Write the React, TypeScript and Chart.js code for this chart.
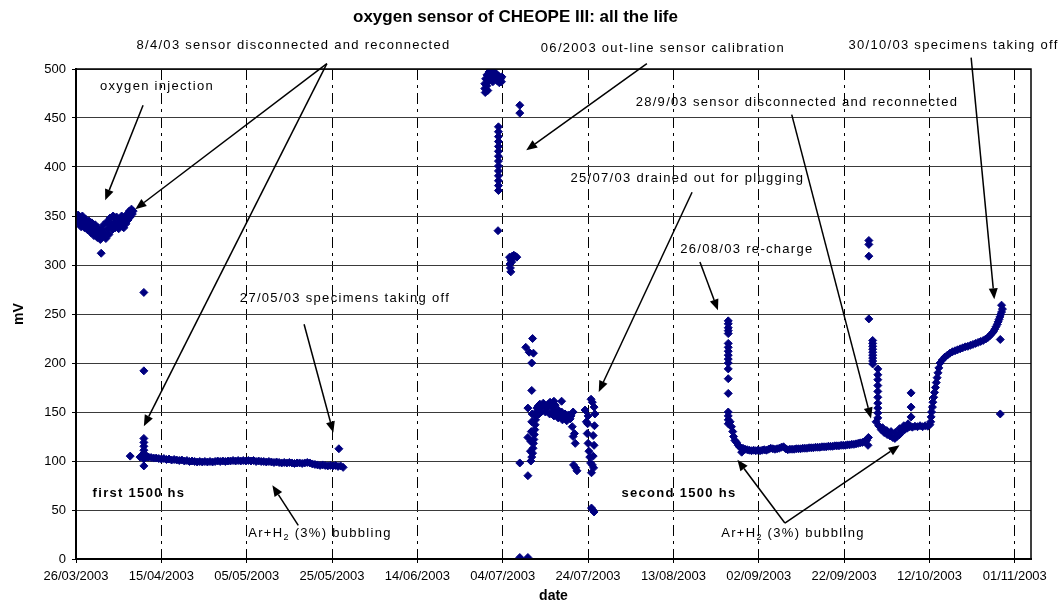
import React, { useEffect, useRef } from 'react';
import { Chart, registerables } from 'chart.js';

Chart.register(...registerables);

type P = [number, number];

// x values are days counted from 26/03/2003, y values are mV
const titleText = 'oxygen sensor of CHEOPE III: all the life';
const xAxisTitle = 'date';
const yAxisTitle = 'mV';

const xTickDays = [0, 20, 40, 60, 80, 100, 120, 140, 160, 180, 200, 220];
const xTickLabels = [
  '26/03/2003', '15/04/2003', '05/05/2003', '25/05/2003', '14/06/2003', '04/07/2003',
  '24/07/2003', '13/08/2003', '02/09/2003', '22/09/2003', '12/10/2003', '01/11/2003',
];
const yTickValues = [0, 50, 100, 150, 200, 250, 300, 350, 400, 450, 500];

const injectionRun: P[] = [
  [0, 350], [0.3, 346], [0.5, 351], [0.7, 342], [1.0, 348], [1.2, 339], [1.5, 350], [1.7, 344],
  [2.0, 338], [2.2, 347], [2.5, 341], [2.7, 336], [3.0, 345], [3.2, 339], [3.5, 333], [3.7, 343],
  [4.0, 336], [4.2, 330], [4.5, 341], [4.7, 334], [5.0, 328], [5.2, 338], [5.5, 331], [5.7, 326],
  [6.0, 336], [6.2, 329], [5.9, 312], [6.5, 341], [6.7, 333], [7.0, 327], [7.2, 344], [7.5, 337],
  [7.7, 331], [8.0, 348], [8.2, 341], [8.5, 336], [8.7, 350], [9.0, 344], [9.2, 338], [9.5, 349],
  [9.7, 342], [10.0, 337], [10.2, 347], [10.5, 340], [10.7, 350], [11.0, 344], [11.2, 338],
  [11.5, 348], [11.7, 342], [12.0, 352], [12.2, 346], [12.5, 355], [12.7, 349], [13.0, 357],
  [13.2, 352], [13.4, 355],
];

const reconnectionSpike: P[] = [
  [15.9, 272], [15.9, 192], [15.9, 123], [15.9, 119], [15.9, 115], [15.9, 111], [15.9, 108],
  [15.9, 105], [15.9, 102], [15.9, 95], [15.0, 104], [16.8, 104],
];

const firstBubbling: P[] = [
  [12.7, 105], [16.4, 104.5], [17.0, 104], [17.6, 103.5], [18.2, 103], [18.8, 103], [19.4, 102.5],
  [20.0, 102], [20.6, 102.5], [21.2, 101.5], [21.8, 102], [22.4, 101], [23.0, 101.5], [23.6, 101],
  [24.2, 100.5], [24.8, 101], [25.4, 100], [26.0, 100.5], [26.6, 99.5], [27.2, 100], [27.8, 99.5],
  [28.4, 99], [29.0, 99.5], [29.6, 99], [30.2, 99.5], [30.8, 99], [31.4, 99.5], [32.0, 99],
  [32.6, 99.5], [33.2, 100], [33.8, 99.5], [34.4, 100], [35.0, 99.5], [35.6, 100], [36.2, 100],
  [36.8, 100.5], [37.4, 100], [38.0, 100.5], [38.6, 100], [39.2, 100.5], [39.8, 100], [40.4, 100.5],
  [41.0, 100], [41.6, 100.5], [42.2, 99.5], [42.8, 100], [43.4, 99.5], [44.0, 99.5], [44.6, 99],
  [45.2, 99.5], [45.8, 99], [46.4, 98.5], [47.0, 99], [47.6, 98.5], [48.2, 98], [48.8, 98.5],
  [49.4, 98], [50.0, 98.5], [50.6, 98], [51.2, 97.5], [51.8, 98], [52.4, 98], [53.0, 97.5],
  [53.6, 98], [54.2, 98.5], [54.8, 98], [55.4, 97], [56.0, 96.5], [56.6, 96], [57.2, 95.5],
  [57.8, 96], [58.4, 95.5], [59.0, 95], [59.6, 95.5], [60.2, 95], [60.8, 95.5], [61.4, 94.5],
  [62.0, 95], [62.6, 93.5], [61.6, 112.5],
];

const calibrationHigh: P[] = [
  [95.8, 485], [95.8, 480], [95.9, 476], [96.0, 490], [96.3, 494], [96.3, 483], [96.5, 478],
  [96.8, 497], [96.8, 488], [97.2, 500], [97.2, 492], [97.5, 498], [97.7, 494], [97.7, 487],
  [98.0, 497], [98.2, 491], [98.5, 495], [98.7, 488], [99.0, 493], [99.2, 486], [99.5, 490],
  [99.7, 487], [99.8, 492],
  [99.0, 441], [99.0, 436], [99.0, 431], [99.0, 426], [99.0, 421], [99.0, 416], [99.0, 411],
  [99.0, 406], [99.0, 401], [99.0, 396], [99.0, 391], [99.0, 386], [99.0, 381], [99.0, 376],
  [98.9, 335], [104.0, 463], [104.0, 455],
];

const afterCalibration: P[] = [
  [101.6, 308], [101.9, 305], [102.2, 309], [102.6, 310], [103.0, 309], [103.3, 308],
  [101.7, 301], [101.8, 297], [101.9, 293], [102.1, 303],
  [104.0, 98], [104.0, 1.5], [105.9, 1.5], [105.4, 216], [106.2, 211], [107.0, 225], [107.2, 210],
  [106.8, 200], [106.8, 172], [105.9, 154], [105.9, 124], [105.9, 85],
  [106.5, 110], [106.6, 120], [106.7, 130], [106.8, 140], [106.9, 148],
  [106.6, 100], [106.8, 104], [107.0, 108], [107.1, 113], [107.2, 118], [107.3, 122], [107.4, 127],
  [107.5, 132], [107.6, 137], [107.7, 142], [107.8, 146], [107.9, 150], [108.0, 154],
  [108.3, 156], [108.7, 158], [109.1, 155], [109.5, 159], [109.9, 156], [110.3, 153], [110.7, 158],
  [111.1, 160], [111.5, 155], [111.9, 151], [112.3, 157], [112.6, 148], [113.0, 152], [113.4, 146],
  [113.8, 150], [114.2, 145], [114.6, 148], [115.0, 144], [115.4, 147], [115.8, 143], [116.0, 146],
  [112.0, 161], [113.8, 161],
  [108.5, 148], [109.0, 150], [110.0, 150], [111.0, 148], [112.0, 146], [113.0, 144], [114.0, 142],
  [115.0, 141],
  [116.5, 150], [116.3, 135], [116.5, 125], [116.8, 128], [117.0, 118], [116.6, 96], [117.1, 93],
  [117.4, 90],
  [119.3, 152], [119.6, 140], [119.8, 128], [120.0, 118], [120.2, 110], [120.4, 104], [120.6, 98],
  [120.8, 88], [121.0, 96], [121.2, 105], [121.4, 116], [121.2, 126], [121.5, 136], [121.6, 148],
  [121.4, 155], [121.0, 160], [120.7, 163], [120.0, 146], [119.9, 138], [121.3, 93],
  [121.1, 50], [121.4, 48], [120.8, 52],
];

const recharge: P[] = [
  [152.85, 243], [152.85, 240], [152.85, 236], [152.85, 233], [152.85, 230], [152.85, 220],
  [152.85, 216], [152.85, 212], [152.85, 208], [152.85, 204], [152.85, 200], [152.85, 194],
  [152.85, 184], [152.85, 169], [152.85, 150], [152.85, 146], [152.85, 142], [152.85, 138],
  [153.3, 140], [153.6, 135], [153.9, 130], [154.1, 125], [154.4, 121], [154.8, 119], [155.2, 116],
  [155.6, 114], [156.0, 109], [156.3, 113],
  [156.8, 112], [157.3, 111.5], [157.8, 111], [158.3, 110.5], [158.8, 111], [159.3, 110.5],
  [159.8, 111], [160.3, 110.5], [160.8, 111], [161.3, 111.5], [161.8, 111], [162.3, 112],
  [162.8, 113], [163.3, 112.5], [163.8, 112], [164.3, 112.5], [164.8, 113], [165.3, 114],
  [165.8, 114.5], [166.3, 112.5], [166.8, 111.5], [167.3, 112], [167.8, 112], [168.3, 112],
  [168.8, 112.5], [169.3, 112.5], [169.8, 112.5], [170.3, 113], [170.8, 113], [171.3, 113],
  [171.8, 113.5], [172.3, 113.5], [172.8, 113.5], [173.3, 114], [173.8, 114], [174.3, 114],
  [174.8, 114.5], [175.3, 114.5], [175.8, 114.5], [176.3, 115], [176.8, 115], [177.3, 115],
  [177.8, 115.5], [178.3, 115.5], [178.8, 115.5], [179.3, 116], [179.8, 116], [180.3, 116],
  [180.8, 116.5], [181.3, 116.5], [181.8, 117], [182.3, 117], [182.8, 117.5], [183.3, 118],
  [183.8, 118.5], [184.3, 119], [184.8, 120], [185.3, 121], [185.6, 116], [185.7, 124],
];

const secondReconnection: P[] = [
  [185.8, 325], [185.8, 321], [185.8, 309], [185.8, 245],
  [186.7, 223], [186.7, 220], [186.7, 217], [186.7, 214], [186.7, 211], [186.7, 208], [186.7, 205],
  [186.7, 202], [186.7, 199],
  [187.9, 194], [187.9, 188], [187.9, 183], [187.9, 177], [187.9, 171], [187.9, 165], [187.9, 159],
  [187.9, 154], [187.9, 149], [187.9, 144],
  [187.5, 140], [188.1, 136], [188.7, 132], [189.4, 129], [190.1, 127], [190.8, 125.5], [191.4, 124],
  [191.9, 123], [192.4, 125], [193.0, 127], [193.6, 130], [194.2, 132], [194.8, 133.5], [195.4, 135],
  [196.0, 134.5], [196.6, 135.5], [197.2, 135], [197.8, 136], [198.4, 135], [199.0, 136],
  [199.6, 135.5], [200.1, 137],
  [189.0, 134], [190.0, 131], [191.0, 130], [192.0, 129], [193.0, 133], [194.0, 136], [195.0, 138],
  [195.7, 169.5], [195.7, 155], [195.7, 145],
];

const finalRise: P[] = [
  [200.3, 140], [200.4, 145], [200.5, 150], [200.7, 155], [200.8, 160], [201.0, 165], [201.2, 170],
  [201.4, 175], [201.6, 180], [201.8, 185], [202.0, 190], [202.2, 195], [202.5, 200], [203.0, 203],
  [203.6, 206], [204.2, 208], [204.8, 210], [205.4, 211.5], [206.0, 212.5], [206.6, 213.5],
  [207.2, 214.5], [207.8, 215.5], [208.4, 216.5], [209.0, 217], [209.6, 218], [210.2, 219],
  [210.8, 220], [211.4, 221], [212.0, 222], [212.6, 223], [213.2, 224.5], [213.7, 226],
  [214.2, 228], [214.6, 230], [215.0, 232], [215.3, 234.5], [215.6, 237], [215.9, 239.5],
  [216.1, 242], [216.3, 244.5], [216.5, 247], [216.7, 249.5], [216.9, 252], [217.1, 255],
  [216.9, 259], [216.6, 224], [216.6, 148],
];

type Part = { t: string; sub?: boolean };
const annotationTexts: { parts: Part[]; day: number; mv: number; bold?: boolean }[] = [
  { parts: [{ t: '8/4/03 sensor disconnected and reconnected' }], day: 50.97, mv: 524.2 },
  { parts: [{ t: 'oxygen injection' }], day: 18.98, mv: 482.3 },
  { parts: [{ t: '06/2003 out-line sensor calibration' }], day: 137.55, mv: 521.1 },
  { parts: [{ t: '30/10/03 specimens taking off' }], day: 205.65, mv: 524.2 },
  { parts: [{ t: '28/9/03 sensor disconnected and reconnected' }], day: 168.95, mv: 466.0 },
  { parts: [{ t: '25/07/03 drained out for plugging' }], day: 143.27, mv: 388.5 },
  { parts: [{ t: '26/08/03 re-charge' }], day: 157.23, mv: 316.0 },
  { parts: [{ t: '27/05/03 specimens taking off' }], day: 63.03, mv: 266.0 },
  { parts: [{ t: 'first 1500 hs' }], day: 14.76, mv: 67.0, bold: true },
  { parts: [{ t: 'Ar+H' }, { t: '2', sub: true }, { t: ' (3%) bubbling' }], day: 57.18, mv: 26.2 },
  { parts: [{ t: 'second 1500 hs' }], day: 141.3, mv: 67.0, bold: true },
  { parts: [{ t: 'Ar+H' }, { t: '2', sub: true }, { t: ' (3%) bubbling' }], day: 168.02, mv: 26.2 },
];

const annotationArrows: { from: P; to: P }[] = [
  { from: [15.72, 463.0], to: [6.84, 366.0] },
  { from: [58.79, 505.5], to: [13.9, 357.0] },
  { from: [58.79, 505.5], to: [15.9, 135.5] },
  { from: [53.45, 239.5], to: [60.3, 129.0] },
  { from: [52.09, 34.4], to: [46.02, 75.2] },
  { from: [133.78, 505.5], to: [105.5, 417.1] },
  { from: [144.37, 374.2], to: [122.5, 170.5] },
  { from: [146.22, 303.1], to: [150.44, 253.8] },
  { from: [167.73, 453.5], to: [186.3, 143.3] },
  { from: [209.77, 511.6], to: [215.2, 265.0] },
  { from: [166.12, 36.7], to: [155.0, 101.4] },
  { from: [166.12, 36.7], to: [193.0, 116.0] },
];

const FONT = "'Liberation Sans', Arial, sans-serif";

const annotationPlugin = {
  id: 'cheopeAnnotations',
  afterDraw(chart: any) {
    const { ctx, chartArea: a } = chart;
    const xs = chart.scales.x;
    const ys = chart.scales.y;
    ctx.save();
    // plot frame
    ctx.strokeStyle = '#000';
    ctx.lineWidth = 1.5;
    ctx.strokeRect(a.left, a.top, a.right - a.left, a.bottom - a.top);

    // arrows
    ctx.lineWidth = 1.5;
    ctx.fillStyle = '#000';
    for (const ar of annotationArrows) {
      const x1 = xs.getPixelForValue(ar.from[0]);
      const y1 = ys.getPixelForValue(ar.from[1]);
      const x2 = xs.getPixelForValue(ar.to[0]);
      const y2 = ys.getPixelForValue(ar.to[1]);
      const ang = Math.atan2(y2 - y1, x2 - x1);
      const hl = 11;
      const hw = 4.5;
      const bx = x2 - hl * Math.cos(ang);
      const by = y2 - hl * Math.sin(ang);
      ctx.beginPath();
      ctx.moveTo(x1, y1);
      ctx.lineTo(bx, by);
      ctx.stroke();
      ctx.beginPath();
      ctx.moveTo(x2, y2);
      ctx.lineTo(bx + hw * Math.sin(ang), by - hw * Math.cos(ang));
      ctx.lineTo(bx - hw * Math.sin(ang), by + hw * Math.cos(ang));
      ctx.closePath();
      ctx.fill();
    }

    // texts
    ctx.textBaseline = 'middle';
    ctx.textAlign = 'left';
    for (const tx of annotationTexts) {
      const cx = xs.getPixelForValue(tx.day);
      const cy = ys.getPixelForValue(tx.mv);
      const main = `${tx.bold ? 'bold ' : ''}13px ${FONT}`;
      const small = `${tx.bold ? 'bold ' : ''}9px ${FONT}`;
      (ctx as any).letterSpacing = '1.3px';
      let total = 0;
      for (const p of tx.parts) {
        ctx.font = p.sub ? small : main;
        total += ctx.measureText(p.t).width;
      }
      let x = cx - total / 2;
      for (const p of tx.parts) {
        ctx.font = p.sub ? small : main;
        ctx.fillText(p.t, x, p.sub ? cy + 4 : cy);
        x += ctx.measureText(p.t).width;
      }
    }
    (ctx as any).letterSpacing = '0px';
    ctx.restore();
  },
};

export default function App() {
  const ref = useRef<HTMLCanvasElement | null>(null);

  useEffect(() => {
    if (!ref.current) return;
    const all = [
      ...injectionRun, ...reconnectionSpike, ...firstBubbling, ...calibrationHigh,
      ...afterCalibration, ...recharge, ...secondReconnection, ...finalRise,
    ].map(([d, v]) => ({ x: d, y: v }));

    const chart = new Chart(ref.current, {
      type: 'scatter',
      data: {
        datasets: [
          {
            label: 'oxygen sensor',
            data: all,
            pointStyle: 'rectRot',
            pointRadius: 4,
            pointHoverRadius: 4,
            backgroundColor: '#000080',
            borderColor: '#000080',
            borderWidth: 1,
            showLine: false,
          },
        ],
      },
      options: {
        animation: false,
        responsive: false,
        devicePixelRatio: 1,
        events: [],
        layout: { padding: { left: 0, right: 32, top: 0, bottom: 0 } },
        plugins: {
          legend: { display: false },
          tooltip: { enabled: false },
          title: {
            display: true,
            text: titleText,
            color: '#000',
            font: { size: 17, weight: 'bold', family: FONT },
            padding: { top: 7, bottom: 41.6 },
          },
        },
        scales: {
          x: {
            type: 'linear',
            min: 0,
            max: 223.8,
            afterBuildTicks: (s: any) => {
              s.ticks = xTickDays.map((v) => ({ value: v }));
            },
            afterFit: (s: any) => {
              s.height = 47;
            },
            ticks: {
              autoSkip: false,
              maxRotation: 0,
              padding: 6,
              color: '#000',
              font: { size: 13, family: FONT },
              callback: (v: any) => {
                const i = xTickDays.indexOf(Number(v));
                return i >= 0 ? xTickLabels[i] : '';
              },
            },
            grid: {
              color: '#000',
              lineWidth: 1,
              tickLength: 4,
              tickColor: '#000',
              tickBorderDash: [],
            },
            border: { display: true, color: '#000', width: 2, dash: [11, 5, 3, 5] },
            title: {
              display: true,
              text: xAxisTitle,
              color: '#000',
              font: { size: 14, weight: 'bold', family: FONT },
              padding: { top: 0, bottom: 1 },
            },
          },
          y: {
            type: 'linear',
            min: 0,
            max: 500,
            afterBuildTicks: (s: any) => {
              s.ticks = yTickValues.map((v) => ({ value: v }));
            },
            afterFit: (s: any) => {
              s.width = 76;
            },
            ticks: {
              padding: 6,
              color: '#000',
              font: { size: 13, family: FONT },
            },
            grid: {
              color: '#3a3a3a',
              lineWidth: 1,
              tickLength: 4,
              tickColor: '#000',
            },
            border: { display: true, color: '#000', width: 2 },
            title: {
              display: true,
              text: yAxisTitle,
              color: '#000',
              font: { size: 14, weight: 'bold', family: FONT },
              padding: { top: 11, bottom: 0 },
            },
          },
        },
      },
      plugins: [annotationPlugin],
    } as any);

    return () => chart.destroy();
  }, []);

  return (
    <div style={{ position: 'fixed', left: 0, top: 0, width: 1063, height: 606, background: '#fff' }}>
      <canvas ref={ref} width={1063} height={606} />
    </div>
  );
}
